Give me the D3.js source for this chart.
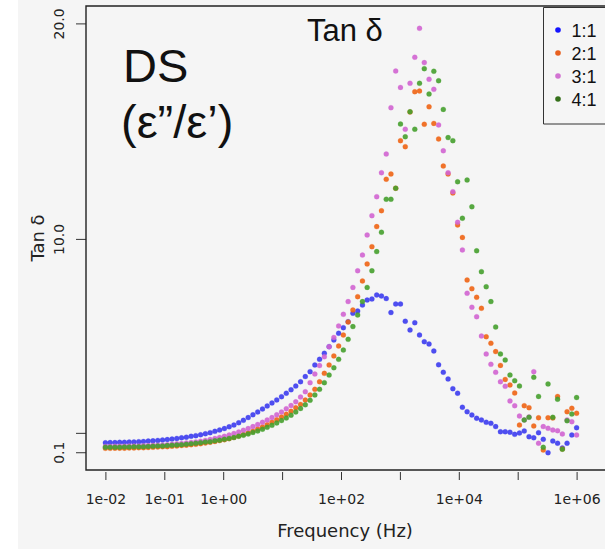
<!DOCTYPE html>
<html>
<head>
<meta charset="utf-8">
<script src="https://cdn.jsdelivr.net/npm/d3@7"></script>
<style>
  html, body { margin: 0; padding: 0; background: #ffffff; overflow: hidden; }
  svg { display: block; overflow: hidden; }
</style>
</head>
<body>
<svg id="chart" width="605" height="550" viewBox="0 0 605 550"></svg>
<script>
// Frequency sweep (log10 of Hz), shared by all four samples
const log10Freq = [
  -2.000, -1.919, -1.838, -1.758, -1.677, -1.596, -1.515, -1.434, -1.354, -1.273,
  -1.192, -1.111, -1.030, -0.949, -0.869, -0.788, -0.707, -0.626, -0.545, -0.465,
  -0.384, -0.303, -0.222, -0.141, -0.061,  0.020,  0.101,  0.182,  0.263,  0.343,
   0.424,  0.505,  0.586,  0.667,  0.747,  0.828,  0.909,  0.990,  1.071,  1.152,
   1.232,  1.313,  1.394,  1.475,  1.556,  1.636,  1.717,  1.798,  1.879,  1.960,
   2.040,  2.121,  2.202,  2.283,  2.364,  2.444,  2.525,  2.606,  2.687,  2.768,
   2.848,  2.929,  3.010,  3.091,  3.172,  3.253,  3.333,  3.414,  3.495,  3.576,
   3.657,  3.737,  3.818,  3.899,  3.980,  4.061,  4.141,  4.222,  4.303,  4.384,
   4.465,  4.545,  4.626,  4.707,  4.788,  4.869,  4.949,  5.030,  5.111,  5.192,
   5.273,  5.354,  5.434,  5.515,  5.596,  5.677,  5.758,  5.838,  5.919,  6.000
];

// Tan δ for each mixing ratio
const tan11 = [
  0.54, 0.55, 0.55, 0.56, 0.56, 0.57, 0.58, 0.59, 0.60, 0.62,
  0.63, 0.65, 0.67, 0.69, 0.71, 0.74, 0.77, 0.80, 0.84, 0.87,
  0.91, 0.96, 1.01, 1.07, 1.13, 1.20, 1.28, 1.36, 1.47, 1.58,
  1.71, 1.84, 1.97, 2.11, 2.25, 2.39, 2.53, 2.68, 2.84, 3.00,
  3.17, 3.37, 3.61, 3.84, 4.15, 4.41, 4.69, 5.00, 5.31, 5.62,
  5.88, 6.16, 6.55, 6.65, 6.93, 7.16, 7.21, 7.40, 7.35, 7.23,
  6.58, 6.98, 6.98, 6.18, 5.77, 6.11, 5.54, 5.23, 5.12, 4.80,
  4.16, 3.81, 3.50, 3.05, 2.84, 2.19, 1.98, 1.83, 1.68, 1.60,
  1.49, 1.44, 1.29, 1.05, 1.05, 1.03, 0.93, 0.99, 1.09, 0.82,
  0.77, 1.01, 0.70, 0.08, 0.62, 0.52, 0.30, 0.52, 0.90, 1.24
];
const tan21 = [
  0.28, 0.28, 0.29, 0.29, 0.29, 0.30, 0.30, 0.31, 0.31, 0.32,
  0.33, 0.34, 0.35, 0.36, 0.38, 0.39, 0.41, 0.43, 0.45, 0.47,
  0.50, 0.53, 0.56, 0.60, 0.64, 0.68, 0.73, 0.79, 0.85, 0.92,
  0.99, 1.08, 1.18, 1.27, 1.38, 1.49, 1.61, 1.73, 1.86, 2.00,
  2.16, 2.32, 2.52, 2.76, 3.02, 3.37, 3.76, 4.15, 4.57, 5.03,
  5.54, 6.14, 6.70, 7.32, 8.05, 8.84, 9.64, 10.57, 11.31, 12.77,
  13.01, 12.35, 14.56, 14.28, 15.89, 16.83, 16.86, 15.32, 16.13, 15.36,
  14.64, 13.38, 13.01, 12.13, 10.65, 10.07, 8.09, 7.69, 7.29, 6.78,
  5.46, 5.16, 4.77, 4.13, 3.48, 3.22, 2.85, 1.36, 2.26, 2.17,
  1.32, 1.70, 0.20, 1.70, 1.69, 2.69, 0.25, 1.98, 2.14, 1.91
];
const tan31 = [
  0.37, 0.37, 0.38, 0.38, 0.38, 0.39, 0.39, 0.39, 0.40, 0.41,
  0.42, 0.43, 0.44, 0.45, 0.47, 0.49, 0.51, 0.53, 0.55, 0.58,
  0.61, 0.65, 0.69, 0.74, 0.79, 0.84, 0.90, 0.97, 1.04, 1.12,
  1.20, 1.29, 1.39, 1.49, 1.60, 1.71, 1.84, 1.97, 2.12, 2.27,
  2.44, 2.66, 2.91, 3.33, 3.73, 4.12, 4.53, 5.00, 5.43, 5.96,
  6.50, 7.09, 7.75, 8.52, 9.25, 10.18, 11.08, 11.96, 13.07, 13.94,
  16.09, 17.79, 17.03, 15.09, 17.22, 18.43, 19.77, 18.18, 17.41, 16.94,
  15.29, 14.09, 13.07, 12.19, 10.77, 9.49, 7.48, 6.83, 6.39, 5.49,
  4.66, 4.18, 3.81, 3.37, 3.16, 2.48, 2.26, 1.78, 1.60, 1.74,
  3.84, 0.52, 1.29, 1.21, 1.13, 1.10, 0.95, 1.60, 1.52, 0.90
];
const tan41 = [
  0.33, 0.33, 0.33, 0.33, 0.34, 0.34, 0.35, 0.35, 0.36, 0.37,
  0.38, 0.39, 0.39, 0.41, 0.42, 0.44, 0.45, 0.47, 0.49, 0.52,
  0.54, 0.57, 0.59, 0.63, 0.66, 0.70, 0.74, 0.78, 0.84, 0.89,
  0.95, 1.02, 1.09, 1.17, 1.26, 1.35, 1.46, 1.57, 1.69, 1.82,
  1.97, 2.13, 2.30, 2.51, 2.76, 3.02, 3.33, 3.68, 4.02, 4.41,
  4.84, 5.34, 5.93, 6.47, 7.09, 7.75, 8.52, 9.41, 10.31, 11.84,
  11.84, 12.35, 15.33, 14.74, 15.90, 15.09, 17.22, 17.90, 16.72, 17.78,
  17.34, 16.01, 14.70, 14.56, 12.65, 10.96, 12.73, 11.49, 9.45, 8.48,
  7.78, 7.09, 5.91, 4.66, 4.38, 3.68, 3.42, 3.17, 1.60, 1.72,
  3.58, 2.69, 0.33, 3.27, 1.72, 2.56, 0.24, 1.56, 1.87, 2.64
];

const seriesNames = ["1:1", "2:1", "3:1", "4:1"];
const seriesValues = [tan11, tan21, tan31, tan41];
const pointColors = ["#3c3cf0", "#f06414", "#d264d2", "#46a02d"];
const legendColors = ["#1414ff", "#e8601e", "#d273d2", "#35701a"];

const xTickValues = [1e-2, 1e-1, 1e0, 1e1, 1e2, 1e3, 1e4, 1e5, 1e6];
const xTickLabels = ["1e-02", "1e-01", "1e+00", "", "1e+02", "", "1e+04", "", "1e+06"];
const yTickValues = [0.1, 1, 10, 20];
const yTickLabels = ["0.1", "", "10.0", "20.0"];

const W = 605;
const svg = d3.select("#chart");
const box = { left: 86, top: 6, bottom: 470 };

// panel background
svg.append("rect")
  .attr("x", 18).attr("y", 0).attr("width", W - 18).attr("height", 549)
  .attr("fill", "#f5f5f5");

const x = d3.scaleLog().domain([1e-2, 1e6]).range([105.4, 576.6]);
const y = d3.scaleLinear().domain([0, 20]).range([454.4, 23.4]);

const tickFont = "'DejaVu Sans', sans-serif";
const textFont = "'Liberation Sans', Arial, sans-serif";

// x axis
const xAxis = svg.append("g")
  .attr("transform", `translate(0,${box.bottom + 2})`)
  .call(d3.axisBottom(x)
    .tickValues(xTickValues)
    .tickSize(8)
    .tickPadding(14)
    .tickFormat((d, i) => xTickLabels[i]));
xAxis.select(".domain").remove();
xAxis.selectAll("line").attr("stroke", "#333").attr("stroke-width", 1);
xAxis.selectAll("text")
  .attr("font-family", tickFont).attr("font-size", 14).attr("fill", "#222");

// y axis with rotated labels
const yAxis = svg.append("g")
  .attr("transform", `translate(${box.left},0)`)
  .call(d3.axisLeft(y)
    .tickValues(yTickValues)
    .tickSize(10)
    .tickFormat((d, i) => yTickLabels[i]));
yAxis.select(".domain").remove();
yAxis.selectAll("line").attr("stroke", "#333").attr("stroke-width", 1);
yAxis.selectAll("text")
  .attr("transform", "rotate(-90)")
  .attr("x", 0).attr("y", -22.5).attr("dy", 0)
  .attr("text-anchor", "middle")
  .attr("font-family", tickFont).attr("font-size", 14).attr("fill", "#222");

// points, drawn in series order
seriesValues.forEach((vals, s) => {
  svg.append("g")
    .selectAll("circle")
    .data(vals.map((v, i) => ({ f: Math.pow(10, log10Freq[i]), v })))
    .join("circle")
    .attr("cx", d => x(d.f))
    .attr("cy", d => y(d.v))
    .attr("r", 2.5)
    .attr("fill", pointColors[s])
    .attr("fill-opacity", 0.9)
    .attr("stroke", pointColors[s])
    .attr("stroke-opacity", 0.6)
    .attr("stroke-width", 0.4);
});

// frame: the panel runs past the right edge, so only three sides show
svg.append("path")
  .attr("d", `M${W},${box.top}H${box.left}V${box.bottom}H${W}`)
  .attr("fill", "none").attr("stroke", "#222").attr("stroke-width", 1.4);

// axis titles
svg.append("text")
  .attr("x", 345).attr("y", 537)
  .attr("text-anchor", "middle")
  .attr("font-family", tickFont).attr("font-size", 18).attr("fill", "#222")
  .text("Frequency (Hz)");
svg.append("text")
  .attr("transform", "translate(44,238) rotate(-90)")
  .attr("text-anchor", "middle")
  .attr("font-family", tickFont).attr("font-size", 18).attr("fill", "#222")
  .text("Tan δ");

// panel labels
svg.append("text")
  .attr("x", 307).attr("y", 41)
  .attr("font-family", textFont).attr("font-size", 31).attr("fill", "#111")
  .text("Tan δ");
svg.append("text")
  .attr("x", 123).attr("y", 82)
  .attr("font-family", textFont).attr("font-size", 47).attr("fill", "#111")
  .text("DS");
svg.append("text")
  .attr("x", 121).attr("y", 138)
  .attr("font-family", textFont).attr("font-size", 47).attr("fill", "#111")
  .text("(ε”/ε’)");

// legend (its right side is cut off with the panel)
const legend = svg.append("g");
legend.append("path")
  .attr("d", `M${W},7.5H543.5V124H${W}`)
  .attr("fill", "none").attr("stroke", "#333").attr("stroke-width", 1);
seriesNames.forEach((name, i) => {
  const cy = 30 + i * 23;
  legend.append("circle")
    .attr("cx", 558).attr("cy", cy).attr("r", 2.8)
    .attr("fill", legendColors[i]);
  legend.append("text")
    .attr("x", 571.5).attr("y", cy + 6.5)
    .attr("font-family", textFont).attr("font-size", 18).attr("fill", "#111")
    .text(name);
});
</script>
</body>
</html>
